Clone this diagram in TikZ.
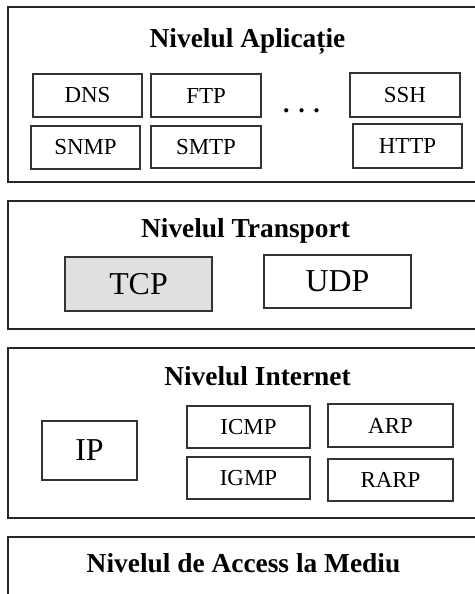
\documentclass[tikz,border=0pt]{standalone}
\usepackage{fontspec}
\setmainfont{Liberation Serif}
\begin{document}
\begin{tikzpicture}[x=1bp,y=-1bp,
  layer/.style={draw=black!85, line width=1.3bp, rectangle, inner sep=0pt},
  proto/.style={draw=black!80, line width=1.2bp, rectangle, inner sep=0pt, font=\fontsize{23}{26}\selectfont},
  big/.style={proto, font=\fontsize{32}{36}\selectfont},
  title/.style={anchor=base, inner sep=0pt, font=\fontsize{27.5}{30}\selectfont\bfseries}]
\clip (0,0) rectangle (475,594);
\fill[white] (0,0) rectangle (475,594);
% layers
\node[layer, minimum width=472bp, minimum height=175bp] (app) at (244,94.5) {};
\node[layer, minimum width=472bp, minimum height=128bp] (tra) at (244,265) {};
\node[layer, minimum width=472bp, minimum height=170bp] (inet) at (244,433) {};
\node[layer, minimum width=472bp, minimum height=83bp] (acc) at (244,578.5) {};
% titles
\node[title] (tapp) at (247.5,48) {Nivelul Aplicație};
\node[title] (ttra) at (245.5,237) {Nivelul Transport};
\node[title] (tinet) at (257.5,385) {Nivelul Internet};
\node[title] (tacc) at (243.5,572) {Nivelul de Access la Mediu};
% application
\node[proto, minimum width=109bp, minimum height=43bp] (dns) at (87.5,95.5) {DNS};
\node[proto, minimum width=110bp, minimum height=43bp] (ftp) at (206,95.5) {FTP};
\node[proto, minimum width=110bp, minimum height=44bp] (ssh) at (405,95) {SSH};
\node[proto, minimum width=109bp, minimum height=43bp] (snmp) at (85.5,147.5) {SNMP};
\node[proto, minimum width=110bp, minimum height=42bp] (smtp) at (206,147) {SMTP};
\node[proto, minimum width=109bp, minimum height=44bp] (http) at (407.5,146) {HTTP};
\node[anchor=base, inner sep=0pt, font=\fontsize{26}{28}\selectfont\bfseries] (dots) at (301.5,113) {. . .};
% transport
\node[big, fill=black!12, minimum width=147bp, minimum height=54bp] (tcp) at (138.5,284) {TCP};
\node[big, minimum width=147bp, minimum height=53bp] (udp) at (337.5,281.5) {UDP};
% internet
\node[big, minimum width=95bp, minimum height=59bp] (ip) at (89.5,450.5) {IP};
\node[proto, minimum width=123bp, minimum height=42bp] (icmp) at (248.5,427) {ICMP};
\node[proto, minimum width=123bp, minimum height=42bp] (igmp) at (248.5,478) {IGMP};
\node[proto, minimum width=125bp, minimum height=43bp] (arp) at (390.5,425.5) {ARP};
\node[proto, minimum width=125bp, minimum height=42bp] (rarp) at (390.5,480) {RARP};
\end{tikzpicture}
\end{document}
